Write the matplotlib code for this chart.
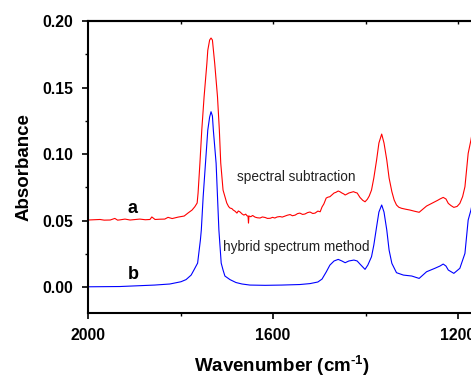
import matplotlib
matplotlib.use("Agg")
import matplotlib.pyplot as plt
from matplotlib.ticker import MultipleLocator

plt.rcParams['font.family'] = ['Liberation Sans', 'DejaVu Sans']
plt.rcParams['mathtext.fontset'] = 'custom'
plt.rcParams['mathtext.rm'] = 'Liberation Sans:bold'
plt.rcParams['mathtext.bf'] = 'Liberation Sans:bold'

# ---- data ----
wn_a = [2000, 1985, 1974, 1965, 1952, 1942, 1936, 1931, 1920, 1909, 1898, 1888, 1876,
        1866, 1862, 1855, 1845, 1834, 1827, 1818, 1805, 1792, 1784, 1775, 1769, 1764,
        1762, 1758, 1754, 1749, 1743, 1741, 1737, 1734, 1731, 1726, 1720, 1716, 1713,
        1708, 1700, 1696, 1693, 1689, 1686, 1682, 1678, 1675, 1671, 1667, 1663, 1659,
        1656, 1654, 1653, 1652, 1648, 1644, 1639, 1634, 1628, 1623, 1617, 1612, 1606,
        1601, 1596, 1591, 1585, 1580, 1574, 1569, 1563, 1558, 1552, 1547, 1542, 1536,
        1531, 1525, 1520, 1514, 1509, 1503, 1498, 1494, 1490, 1485, 1481, 1477, 1472,
        1468, 1464, 1459, 1455, 1451, 1447, 1444, 1440, 1436, 1431, 1426, 1422, 1418,
        1415, 1412, 1406, 1401, 1396, 1392, 1387, 1382, 1376, 1371, 1365, 1360, 1354,
        1349, 1343, 1338, 1333, 1328, 1322, 1313, 1304, 1294, 1284, 1276, 1268, 1259,
        1250, 1244, 1239, 1232, 1226, 1221, 1215, 1209, 1202, 1196, 1190, 1185, 1178,
        1172, 1165]
abs_a = [0.0504, 0.0506, 0.0508, 0.0503, 0.0504, 0.0516, 0.0503, 0.0505, 0.0511, 0.0504,
         0.0508, 0.0511, 0.0506, 0.0508, 0.0527, 0.0508, 0.0510, 0.0511, 0.0524, 0.0515,
         0.0526, 0.0534, 0.0556, 0.0579, 0.0604, 0.0632, 0.0707, 0.0932, 0.1180, 0.1430,
         0.1680, 0.1780, 0.1857, 0.1872, 0.1857, 0.1680, 0.1430, 0.1180, 0.0932, 0.0729,
         0.0632, 0.0605, 0.0594, 0.0590, 0.0579, 0.0570, 0.0556, 0.0572, 0.0564, 0.0550,
         0.0541, 0.0548, 0.0535, 0.0534, 0.0481, 0.0534, 0.0529, 0.0538, 0.0526, 0.0521,
         0.0519, 0.0527, 0.0523, 0.0516, 0.0517, 0.0524, 0.0519, 0.0527, 0.0530, 0.0526,
         0.0534, 0.0540, 0.0545, 0.0536, 0.0541, 0.0552, 0.0556, 0.0546, 0.0549, 0.0560,
         0.0564, 0.0553, 0.0556, 0.0571, 0.0566, 0.0602, 0.0625, 0.0669, 0.0676, 0.0679,
         0.0694, 0.0707, 0.0712, 0.0722, 0.0716, 0.0707, 0.0700, 0.0692, 0.0699, 0.0707,
         0.0712, 0.0717, 0.0711, 0.0707, 0.0690, 0.0674, 0.0652, 0.0641, 0.0660, 0.0684,
         0.0729, 0.0820, 0.0955, 0.1083, 0.1150, 0.1083, 0.0955, 0.0820, 0.0717, 0.0654,
         0.0617, 0.0600, 0.0592, 0.0585, 0.0579, 0.0570, 0.0562, 0.0585, 0.0609, 0.0625,
         0.0641, 0.0652, 0.0662, 0.0674, 0.0662, 0.0629, 0.0612, 0.0599, 0.0606, 0.0629,
         0.0680, 0.0754, 0.1005, 0.1105, 0.1250]

wn_b = [2000, 1931, 1856, 1823, 1799, 1788, 1777, 1771, 1763, 1757, 1755, 1751, 1746,
        1741, 1737, 1734, 1731, 1729, 1723, 1720, 1717, 1712, 1708, 1704, 1693, 1680,
        1667, 1650, 1617, 1581, 1542, 1520, 1503, 1494, 1485, 1477, 1468, 1459, 1451,
        1444, 1436, 1425, 1418, 1412, 1401, 1395, 1387, 1382, 1376, 1371, 1365, 1360,
        1354, 1349, 1343, 1333, 1318, 1300, 1284, 1268, 1250, 1239, 1232, 1226, 1221,
        1209, 1196, 1185, 1178, 1172, 1165]
abs_b = [0.0002, 0.0004, 0.0015, 0.0023, 0.0040, 0.0056, 0.0090, 0.0128, 0.0180, 0.0353,
         0.0429, 0.0679, 0.0930, 0.1180, 0.1278, 0.1318, 0.1286, 0.1180, 0.0930, 0.0679,
         0.0429, 0.0180, 0.0128, 0.0083, 0.0056, 0.0034, 0.0023, 0.0015, 0.0013, 0.0015,
         0.0019, 0.0026, 0.0038, 0.0060, 0.0113, 0.0165, 0.0196, 0.0208, 0.0196, 0.0183,
         0.0196, 0.0203, 0.0196, 0.0173, 0.0133, 0.0165, 0.0228, 0.0316, 0.0453, 0.0564,
         0.0617, 0.0564, 0.0429, 0.0278, 0.0178, 0.0108, 0.0090, 0.0083, 0.0065, 0.0115,
         0.0141, 0.0158, 0.0173, 0.0158, 0.0128, 0.0103, 0.0141, 0.0253, 0.0504, 0.0579,
         0.0700]

x_ticks = [2000, 1600, 1200]
x_labels = ['2000', '1600', '1200']
y_ticks = [0.00, 0.05, 0.10, 0.15, 0.20]
y_labels = ['0.00', '0.05', '0.10', '0.15', '0.20']

fig = plt.figure(figsize=(4.71, 3.76), dpi=100)
ax = fig.add_axes([88 / 471, 63 / 376, 388.5 / 471, 292 / 376])

ax.plot(wn_a, abs_a, color='#ff0000', lw=0.8)
ax.plot(wn_b, abs_b, color='#0000ff', lw=0.8)

ax.set_xlim(2000, 1160)
ax.set_ylim(-0.0195, 0.20)

ax.set_xticks(x_ticks)
ax.set_xticklabels(x_labels)
ax.xaxis.set_minor_locator(MultipleLocator(200))
ax.set_yticks(y_ticks)
ax.set_yticklabels(y_labels)
ax.yaxis.set_minor_locator(MultipleLocator(0.025))

for s in ax.spines.values():
    s.set_linewidth(1.5)

ax.tick_params(which='major', direction='out', length=4, width=1.2,
               labelsize=11.3, pad=6.5)
ax.tick_params(which='minor', direction='out', length=2.2, width=1.0)
for lab in ax.get_xticklabels() + ax.get_yticklabels():
    lab.set_fontweight('bold')

sec = ax.secondary_xaxis('top')
sec.set_xticks([1800, 1600, 1400, 1200])
sec.tick_params(direction='in', length=2, width=1.0, labeltop=False)
sec.spines['top'].set_linewidth(1.5)

ax.set_xlabel('Wavenumber (cm$^{\\text{-1}}$)', fontsize=13.5, fontweight='bold',
              labelpad=7.5)
ax.set_ylabel('Absorbance', fontsize=13.5, fontweight='bold', labelpad=7)

ax.text(1903, 0.0594, 'a', fontsize=13, fontweight='bold', ha='center', va='center')
ax.text(1903, 0.0098, 'b', fontsize=13, fontweight='bold', ha='center', va='center')
ax.text(1550, 0.0827, 'spectral subtraction', fontsize=9.8, ha='center', va='center',
        color='#222222')
ax.text(1549, 0.0301, 'hybrid spectrum method', fontsize=9.8, ha='center', va='center',
        color='#222222')

fig.savefig('out.png', dpi=100)
